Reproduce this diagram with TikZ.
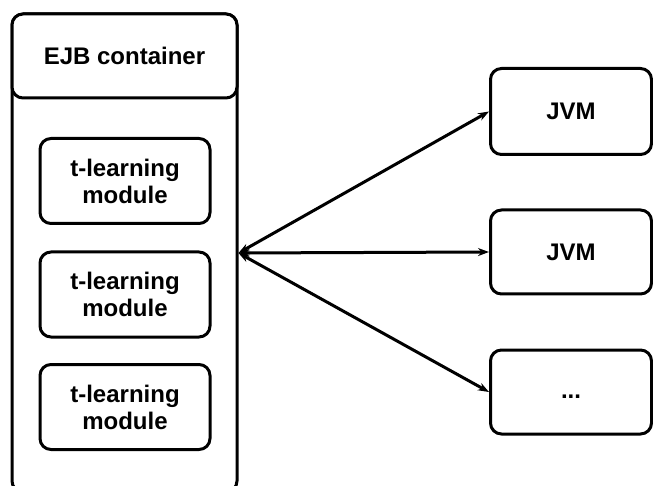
\documentclass[tikz,border=0pt]{standalone}
\usepackage{fontspec}
\setmainfont{Liberation Sans}
\usetikzlibrary{arrows.meta}

\begin{document}
\begin{tikzpicture}[
    x=1pt, y=-1pt,
    >={Stealth[length=11pt, width=8pt]},
    box/.style={draw, line width=3pt, rounded corners=11pt, align=center,
        font=\fontsize{24}{27}\selectfont\bfseries, inner sep=0pt},
    link/.style={<->, line width=3pt}
]

% Page size of the picture (container and right boxes run off the edge)
\clip (0,0) rectangle (653,486);

% --- EJB container ---
\node[box, minimum width=225, minimum height=478] (body) at (124.5,253) {};
\node[box, fill=white, minimum width=225, minimum height=84] (ejb) at (124.5,56) {EJB container};

% --- Modules inside the container ---
\node[box, minimum width=170, minimum height=85] (mod1) at (125,181) {t-learning\\module};
\node[box, minimum width=170, minimum height=85] (mod2) at (125,294.5) {t-learning\\module};
\node[box, minimum width=170, minimum height=85] (mod3) at (125,407) {t-learning\\module};

% --- JVMs on the right ---
\node[box, minimum width=161, minimum height=86] (jvm1) at (571,111.5) {JVM};
\node[box, minimum width=161, minimum height=84] (jvm2) at (571,252) {JVM};
\node[box, minimum width=161, minimum height=84, text height=13pt] (jvm3) at (571,392) {...};

% --- Links from the container to each JVM ---
\draw[link] (body.east) -- (jvm1.west);
\draw[link] (body.east) -- (jvm2.west);
\draw[link] (body.east) -- (jvm3.west);

\end{tikzpicture}
\end{document}
